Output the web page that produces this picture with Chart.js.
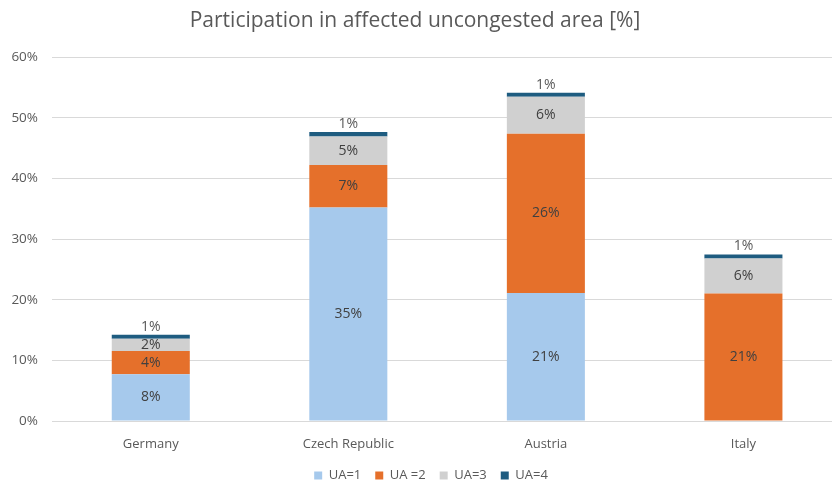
<!DOCTYPE html>
<html>
<head>
<meta charset="utf-8">
<script src="https://cdn.jsdelivr.net/npm/chart.js@4.4.0/dist/chart.umd.min.js"></script>
<style>
  html, body { margin: 0; padding: 0; background: #ffffff; overflow: hidden; }
  #wrap { position: relative; width: 832px; height: 481px; overflow: hidden; }
  #title { position: absolute; left: 0; top: 5px; width: 830px; text-align: center;
           font-family: "Open Sans", sans-serif; font-size: 21px; color: #595959; line-height: 28px; }
  canvas { position: absolute; left: 0; top: 0; }
</style>
</head>
<body>
<div id="wrap">
  <canvas id="c" width="858" height="492"></canvas>
  <div id="title">Participation in affected uncongested area [%]</div>
</div>
<script>
const categories = ["Germany", "Czech Republic", "Austria", "Italy"];
const seriesNames = ["UA=1", "UA =2", "UA=3", "UA=4"];
const ua1 = [7.7, 35.2, 21.1, 0];
const ua2 = [3.85, 7.0, 26.25, 21.0];
const ua3 = [2.0, 4.7, 6.1, 5.8];
const ua4 = [0.66, 0.72, 0.66, 0.66];
const yTicks = [0, 10, 20, 30, 40, 50, 60];
const colors = ["#a6c9ec", "#e5702b", "#d0d0d0", "#1e5c80"];

const series = [ua1, ua2, ua3, ua4];
const datasets = series.map((vals, si) => ({
  label: seriesNames[si],
  data: vals.map((v, i) => ({ x: i, y: v })),
  backgroundColor: colors[si],
  borderWidth: 0,
  categoryPercentage: 1,
  barPercentage: 0.395
}));

const labelPlugin = {
  id: 'segLabels',
  afterDatasetsDraw(chart) {
    const ctx = chart.ctx;
    ctx.save();
    ctx.font = '14px "Open Sans", sans-serif';
    ctx.textAlign = 'center';
    ctx.textBaseline = 'middle';
    chart.data.datasets.forEach((ds, di) => {
      const meta = chart.getDatasetMeta(di);
      meta.data.forEach((el, i) => {
        const v = series[di][i];
        if (!v) return;
        const txt = Math.round(v) + '%';
        let y;
        if (di === series.length - 1) {
          y = el.y - 8;
          ctx.fillStyle = '#595959';
        } else {
          y = (el.y + el.base) / 2;
          ctx.fillStyle = '#404040';
        }
        ctx.fillText(txt, el.x, y);
      });
    });
    ctx.restore();
  }
};

new Chart(document.getElementById('c'), {
  type: 'bar',
  data: { datasets },
  plugins: [labelPlugin],
  options: {
    responsive: false,
    animation: false,
    layout: { padding: { top: 57, left: 4, right: 0, bottom: 0 } },
    plugins: {
      title: { display: false },
      tooltip: { enabled: false },
      legend: {
        position: 'bottom',
        labels: {
          boxWidth: 8, boxHeight: 8, padding: 14,
          color: '#595959',
          font: { family: '"Open Sans", sans-serif', size: 13 }
        }
      }
    },
    scales: {
      x: {
        type: 'linear',
        stacked: true,
        offset: false,
        min: -0.5,
        max: 3.58,
        grid: { display: false, offset: false },
        border: { display: false },
        afterBuildTicks(scale) { scale.ticks = categories.map((c, i) => ({ value: i })); },
        afterFit(scale) { scale.height = 34; },
        ticks: {
          padding: 7,
          color: '#595959',
          font: { family: '"Open Sans", sans-serif', size: 13 },
          callback: (v) => categories[v]
        }
      },
      y: {
        stacked: true,
        min: 0,
        max: 60,
        afterBuildTicks(scale) { scale.ticks = yTicks.map(v => ({ value: v })); },
        afterFit(scale) { scale.width = 48; },
        grid: { color: '#d9d9d9', drawTicks: false, lineWidth: 1 },
        border: { display: false },
        ticks: {
          padding: 14,
          color: '#595959',
          font: { family: '"Open Sans", sans-serif', size: 13.5 },
          callback: (v) => v + '%'
        }
      }
    }
  }
});
</script>
</body>
</html>
